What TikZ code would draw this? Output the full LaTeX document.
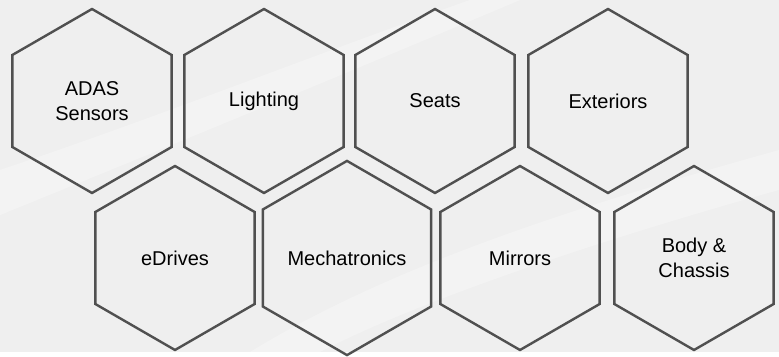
\documentclass[tikz,border=0pt]{standalone}
\usepackage{fontspec}
\setmainfont{Liberation Sans}
\usetikzlibrary{shapes.geometric}
\definecolor{hexline}{HTML}{505050}
\definecolor{backgr}{HTML}{EFEFEF}

\begin{document}
\begin{tikzpicture}[x=1pt,y=-1pt,
  hexa/.style={draw=hexline,line width=2.4pt,regular polygon,regular polygon sides=6,
    shape border rotate=30,minimum size=184pt,inner sep=0pt,align=center,
    font=\fontsize{20}{25}\selectfont}]
\fill[backgr] (0,0) rectangle (779,352);
% faint streaks of the backdrop
\fill[white,opacity=.3] (0,170) .. controls (150,120) and (300,60) .. (470,0)
  -- (520,0) .. controls (330,80) and (160,150) .. (0,215) -- cycle;
\fill[white,opacity=.25] (250,352) .. controls (400,260) and (600,200) .. (779,150)
  -- (779,190) .. controls (600,240) and (420,300) .. (320,352) -- cycle;
% top row
\node[hexa] (n0) at (92,101) {ADAS\\Sensors};
\node[hexa] (n1) at (264,101) {Lighting};
\node[hexa] (n2) at (435,101) {Seats};
\node[hexa] (n3) at (608,101) {Exteriors};
% bottom row
\node[hexa] (n4) at (175,258) {eDrives};
\node[hexa] (n5) at (347,258) {Mechatronics};
\node[hexa] (n6) at (520,258) {Mirrors};
\node[hexa] (n7) at (694,258) {Body \&\\Chassis};
\end{tikzpicture}
\end{document}
